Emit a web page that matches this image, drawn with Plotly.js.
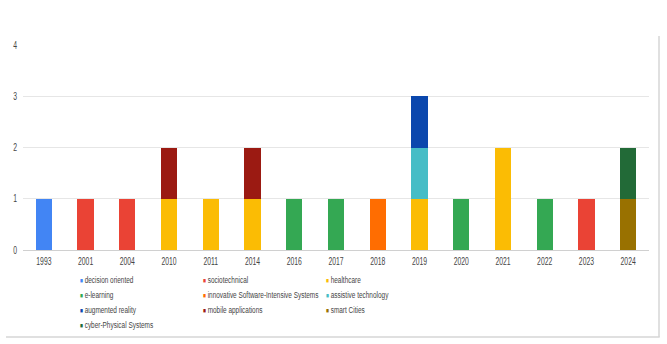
<!DOCTYPE html>
<html>
<head>
<meta charset="utf-8">
<script src="https://cdn.plot.ly/plotly-3.0.1.min.js"></script>
<style>
  html, body { margin: 0; padding: 0; background: #fff; }
  #chart { width: 667px; height: 344px; }
</style>
</head>
<body>
<div id="chart"></div>
<script>
// Categories (years)
const years = ["1993","2001","2004","2010","2011","2014","2016","2017","2018","2019","2020","2021","2022","2023","2024"];

// Series names & colors
const seriesNames = [
  "decision oriented", "sociotechnical", "healthcare",
  "e-learning", "innovative Software-Intensive Systems", "assistive technology",
  "augmented reality", "mobile applications", "smart Cities",
  "cyber-Physical Systems"
];
const seriesColors = [
  "#4285f4", "#ea4335", "#fbbc04",
  "#34a853", "#ff6d01", "#46bdc6",
  "#0b47ad", "#9b1a12", "#997100",
  "#226a37"
];

// Values per series, aligned with years
const decisionOriented   = [1,0,0,0,0,0,0,0,0,0,0,0,0,0,0];
const sociotechnical     = [0,1,1,0,0,0,0,0,0,0,0,0,0,1,0];
const healthcare         = [0,0,0,1,1,1,0,0,0,1,0,2,0,0,0];
const eLearning          = [0,0,0,0,0,0,1,1,0,0,1,0,1,0,0];
const innovativeSIS      = [0,0,0,0,0,0,0,0,1,0,0,0,0,0,0];
const assistiveTech      = [0,0,0,0,0,0,0,0,0,1,0,0,0,0,0];
const augmentedReality   = [0,0,0,0,0,0,0,0,0,1,0,0,0,0,0];
const mobileApplications = [0,0,0,1,0,1,0,0,0,0,0,0,0,0,0];
const smartCities        = [0,0,0,0,0,0,0,0,0,0,0,0,0,0,1];
const cyberPhysical      = [0,0,0,0,0,0,0,0,0,0,0,0,0,0,1];

const seriesValues = [
  decisionOriented, sociotechnical, healthcare, eLearning, innovativeSIS,
  assistiveTech, augmentedReality, mobileApplications, smartCities, cyberPhysical
];

const yTicks = [0,1,2,3,4];

const W = 667, H = 344;
const M = {l: 23, r: 18, t: 45, b: 94};
const pw = W - M.l - M.r, ph = H - M.t - M.b;
const px = x => (x - M.l) / pw;
const py = y => (H - M.b - y) / ph;

const FONT = "Liberation Sans, Arial, sans-serif";

const traces = seriesNames.map((name, i) => ({
  type: "bar",
  name: name,
  x: years,
  y: seriesValues[i].map(v => v === 0 ? null : v),
  marker: {color: seriesColors[i], line: {width: 0}},
  showlegend: false,
  hoverinfo: "x+y+name"
}));

// Legend drawn as annotations (3 columns)
const colX = [78, 201, 324];
const rowY = [279, 294, 309, 324];
const annotations = seriesNames.map((name, i) => ({
  xref: "paper", yref: "paper",
  x: px(colX[i % 3]), y: py(rowY[Math.floor(i / 3)]),
  xanchor: "left", yanchor: "middle", align: "left",
  showarrow: false,
  text: '<span style="color:' + seriesColors[i] + ';font-size:7px">■</span> ' + name,
  font: {family: FONT, size: 9.5, color: "#444"}
}));

const shapes = [
  {type: "line", xref: "paper", yref: "paper",
   x0: px(659), x1: px(659), y0: py(36), y1: py(337),
   line: {color: "#d6d6d6", width: 1.5}},
  {type: "line", xref: "paper", yref: "paper",
   x0: px(6), x1: px(659.7), y0: py(337), y1: py(337),
   line: {color: "#d6d6d6", width: 1.5}}
];

const layout = {
  width: W, height: H,
  margin: M,
  paper_bgcolor: "#ffffff",
  plot_bgcolor: "#ffffff",
  barmode: "stack",
  bargap: 0.61,
  showlegend: false,
  font: {family: FONT, size: 10, color: "#444"},
  xaxis: {
    type: "category",
    categoryorder: "array",
    categoryarray: years,
    showgrid: false, zeroline: false, showline: false,
    ticks: "", ticklabelstandoff: 4,
    tickfont: {family: FONT, size: 10, color: "#444"}
  },
  yaxis: {
    range: [0, 4],
    tickvals: yTicks,
    ticktext: yTicks.map(String),
    showgrid: true, gridcolor: "#e6e6e6", gridwidth: 1,
    zeroline: true, zerolinecolor: "#d0d0d0", zerolinewidth: 1,
    showline: false, ticks: "", ticklabelstandoff: 5,
    tickfont: {family: FONT, size: 10, color: "#444"}
  },
  annotations: annotations,
  shapes: shapes
};

// The reference text is horizontally narrow: scale each text about a fixed x point.
function squeezeAbout(el, ax, s) {
  const prev = el.getAttribute("transform") || "";
  el.setAttribute("transform",
    prev + " translate(" + ax + ",0) scale(" + s + ",1) translate(" + (-ax) + ",0)");
}

Plotly.newPlot("chart", traces, layout, {displayModeBar: false, staticPlot: true}).then(gd => {
  gd.querySelectorAll(".xtick text, .ytick text").forEach(t => {
    const ax = parseFloat(t.getAttribute("x") || "0") || 0;
    squeezeAbout(t, ax, 0.68);
  });
  gd.querySelectorAll("text.annotation-text").forEach(t => {
    const bb = t.getBBox();
    squeezeAbout(t, bb.x, 0.68);
  });
});
</script>
</body>
</html>
